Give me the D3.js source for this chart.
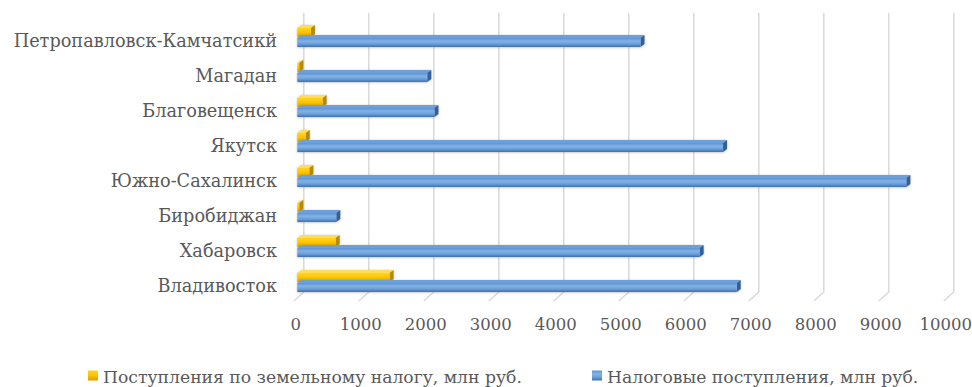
<!DOCTYPE html>
<html>
<head>
<meta charset="utf-8">
<script src="https://cdn.jsdelivr.net/npm/d3@7/dist/d3.min.js"></script>
<style>
  html, body { margin: 0; padding: 0; background: #ffffff; }
  svg { display: block; }
</style>
</head>
<body>
<svg id="chart" width="972" height="387"></svg>
<script>
// Cities, top to bottom
const cities = [
  "Петропавловск-Камчатсикй",
  "Магадан",
  "Благовещенск",
  "Якутск",
  "Южно-Сахалинск",
  "Биробиджан",
  "Хабаровск",
  "Владивосток"
];
// Поступления по земельному налогу, млн руб.
const landTax = [210, 30, 390, 130, 185, 30, 590, 1420];
// Налоговые поступления, млн руб.
const taxRevenue = [5280, 2000, 2110, 6550, 9370, 600, 6190, 6760];
const xTicks = [0, 1000, 2000, 3000, 4000, 5000, 6000, 7000, 8000, 9000, 10000];
const seriesNames = [
  "Поступления по земельному налогу, млн руб.",
  "Налоговые поступления, млн руб."
];

const FONT = '"DejaVu Serif", serif';
const TEXT_COLOR = "#595959";

const svg = d3.select("#chart");
const defs = svg.append("defs");

// 3D depth offsets
const DX = 4, DY = 3;                 // bar depth
const WALL_DX = 6.5;                  // back wall shift
const FLOOR_DX = -10, FLOOR_DY = 9;   // floor edge

const x = d3.scaleLinear().domain([0, 10000]).range([297.3, 947.3]);
const y = d3.scaleBand().domain(cities).range([18.5, 298.5]).padding(0);

function grad(id, stops) {
  const g = defs.append("linearGradient").attr("id", id)
    .attr("x1", 0).attr("y1", 0).attr("x2", 0).attr("y2", 1);
  stops.forEach(([o, c]) => g.append("stop").attr("offset", o).attr("stop-color", c));
}
grad("blueFront", [[0, "#5d92d2"], [0.35, "#82b3e6"], [0.65, "#6ca0dc"], [1, "#3f70ab"]]);
grad("yellowFront", [[0, "#ffd31f"], [0.45, "#ffc600"], [1, "#d99e00"]]);

const sh = defs.append("filter").attr("id", "soft")
  .attr("x", "-5%").attr("y", "-50%").attr("width", "110%").attr("height", "200%");
sh.append("feDropShadow").attr("dx", 0).attr("dy", 0.5)
  .attr("stdDeviation", 1.1).attr("flood-color", "#7f7f7f").attr("flood-opacity", 0.55);

// Back-wall gridlines with floor stubs
const grid = svg.append("g");
grid.selectAll("path").data(xTicks).join("path")
  .attr("d", v => {
    const xb = x(v) + WALL_DX;
    return `M${xb},13 L${xb},292 L${xb + FLOOR_DX},${292 + FLOOR_DY}`;
  })
  .attr("fill", "none").attr("stroke", "#d9d9d9").attr("stroke-width", 1.5);

// One 3D bar: front face, top face and right side
function bar3d(g, x0, x1, yTop, h, front, top, side) {
  const b = g.append("g").attr("filter", "url(#soft)");
  b.append("path")
    .attr("d", `M${x0},${yTop} L${x0 + DX},${yTop - DY} L${x1 + DX},${yTop - DY} L${x1},${yTop} Z`)
    .attr("fill", top);
  b.append("path")
    .attr("d", `M${x1},${yTop} L${x1 + DX},${yTop - DY} L${x1 + DX},${yTop + h - DY} L${x1},${yTop + h} Z`)
    .attr("fill", side);
  b.append("rect").attr("x", x0).attr("y", yTop).attr("width", Math.max(0, x1 - x0)).attr("height", h)
    .attr("fill", front);
}

const bars = svg.append("g");
cities.forEach((c, i) => {
  const cy = y(c) + y.bandwidth() / 2;
  // land tax bar sits behind (upper), total revenue in front (lower)
  bar3d(bars, x(0), x(landTax[i]), cy - 8, 9, "url(#yellowFront)", "#ffdc5a", "#b88a00");
  bar3d(bars, x(0), x(taxRevenue[i]), cy + 2, 9, "url(#blueFront)", "#6d9fd9", "#32609a");
});

// Category labels
const yAxis = d3.axisLeft(y).tickSize(0).tickPadding(0);
const gy = svg.append("g").attr("transform", "translate(277,5)").call(yAxis);
gy.attr("font-family", FONT).attr("font-size", 17.7);
gy.select(".domain").remove();
gy.selectAll("text").attr("fill", TEXT_COLOR);

// Value axis labels along the front floor edge
const xAxis = d3.axisBottom(x).tickValues(xTicks).tickSize(0).tickPadding(0).tickFormat(d3.format("d"));
const gx = svg.append("g").attr("transform", "translate(-2,318)").call(xAxis);
gx.attr("font-family", FONT).attr("font-size", 16.5);
gx.select(".domain").remove();
gx.selectAll("text").attr("fill", TEXT_COLOR);

// Legend
const legend = svg.append("g").attr("font-family", FONT).attr("font-size", 17.2).attr("fill", TEXT_COLOR);
const legendItems = [
  { name: seriesNames[0], fill: "url(#yellowFront)", sx: 88, tx: 103 },
  { name: seriesNames[1], fill: "url(#blueFront)", sx: 592, tx: 607 }
];
legendItems.forEach(d => {
  legend.append("rect").attr("x", d.sx).attr("y", 370.5).attr("width", 10).attr("height", 10).attr("fill", d.fill);
  legend.append("text").attr("x", d.tx).attr("y", 383).text(d.name);
});
</script>
</body>
</html>
